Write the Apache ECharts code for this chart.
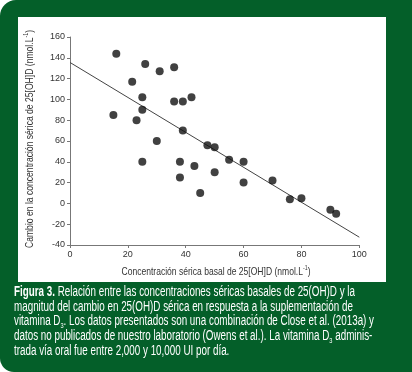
<!DOCTYPE html>
<html><head><meta charset="utf-8">
<script src="https://cdn.jsdelivr.net/npm/echarts@6/dist/echarts.min.js"></script>
<style>html,body{margin:0;padding:0;background:#fff}#c{width:412px;height:372px}</style>
</head><body><div id="c"></div>
<script>
const xTicks = [0, 20, 40, 60, 80, 100];
const yTicks = [-40, -20, 0, 20, 40, 60, 80, 100, 120, 140, 160];
const baseline25OHD = [16, 26, 31, 36, 21.5, 25, 36, 39, 42, 15, 25, 23, 39, 30, 25, 38, 43, 38, 45, 47.5, 50, 55, 60, 50, 60, 70, 76, 80, 90, 92];
const change25OHD  = [144, 134, 127, 131, 117, 102, 98, 98, 102, 85, 90, 80, 70, 60, 40, 40, 36, 25, 10, 56, 54, 42, 40, 30, 20, 22, 4, 5, -6, -10];
const fitX = [0, 100];
const fitY = [135.5, -32.5];
const xTitle = 'Concentración sérica basal de 25[OH]D (nmol.L';
const yTitle = 'Cambio en la concentración sérica de 25[OH]D (nmol.L';
const captionLines = [
  [['b','Figura 3.'],['t',' Relación entre las concentraciones séricas basales de 25(OH)D y la']],
  [['t','magnitud del cambio en 25(OH)D sérica en respuesta a la suplementación de']],
  [['t','vitamina D'],['s','3'],['t','. Los datos presentados son una combinación de Close et al. (2013a) y']],
  [['t','datos no publicados de nuestro laboratorio (Owens et al.). La vitamina D'],['s','3'],['t',' adminis-']],
  [['t','trada vía oral fue entre 2,000 y 10,000 UI por día.']]
];

const GREEN = '#045f29';
const FONT = "'Liberation Sans', Arial, sans-serif";
const chart = echarts.init(document.getElementById('c'), null, {renderer:'canvas'});

const ctx = document.createElement('canvas').getContext('2d');
function w(text, size, bold) { ctx.font = (bold ? 'bold ' : '') + size + 'px ' + FONT; return ctx.measureText(text).width; }

const scatterData = baseline25OHD.map((x,i)=>[x, change25OHD[i]]);
const fitData = fitX.map((x,i)=>[x, fitY[i]]);

const CAP = 14;
const line1W = w('Figura 3.', CAP, true) + w(' Relación entre las concentraciones séricas basales de 25(OH)D y la', CAP, false);
const capScale = 341 / line1W;
const capElems = captionLines.map((line, i) => ({
  type: 'text', x: 14, y: 292.2 + i*14.7, scaleX: capScale, z: 10,
  style: {
    text: line.map(([k,s]) => '{' + k + '|' + s + '}').join(''),
    verticalAlign: 'middle',
    rich: {
      b: {fontFamily: FONT, fontSize: CAP, fontWeight: 'bold', fill: '#fff'},
      t: {fontFamily: FONT, fontSize: CAP, fill: '#fff'},
      s: {fontFamily: FONT, fontSize: 8, fill: '#fff', padding: [9,0,0,0]}
    }
  }
}));

const TS = 10.5;
const titleRich = {
  a: {fontFamily: FONT, fontSize: TS, fill: '#333'},
  sup: {fontFamily: FONT, fontSize: 6.5, fill: '#333', padding: [0,0,7,0]}
};
const xTitleScale = 189 / (w(xTitle + ')', TS) + w('-1', 6.5));
const yTitleScale = 218 / (w(yTitle + ')', TS) + w('-1', 6.5));

const axisLabelStyle = {color:'#333', fontSize: 9, fontFamily: FONT};

chart.setOption({
  animation: false,
  backgroundColor: '#fff',
  graphic: [
    {type:'rect', left:0, top:0, z:-10, shape:{x:0,y:0,width:412,height:372,r:[16,0,0,14]}, style:{fill:GREEN}},
    {type:'rect', left:18, top:17, z:-9, shape:{x:0,y:0,width:368,height:265}, style:{fill:'#fff'}},
    {type:'text', x:216, y:272, scaleX: xTitleScale, z:10,
      style:{text:'{a|' + xTitle + '}{sup|-1}{a|)}', align:'center', verticalAlign:'middle', rich:titleRich}},
    {type:'text', x:30, y:139, rotation: Math.PI/2, scaleX: yTitleScale, z:10,
      style:{text:'{a|' + yTitle + '}{sup|-1}{a|)}', align:'center', verticalAlign:'middle', rich:titleRich}},
    ...capElems
  ],
  grid: {left:70, right:52.7, top:37, bottom:127, containLabel:false},
  xAxis: {
    type:'value', min:0, max:100, interval:20,
    axisLine:{show:true, onZero:false, lineStyle:{color:'#777', width:1}},
    axisTick:{show:true, length:3, lineStyle:{color:'#777'}},
    axisLabel: Object.assign({margin:5}, axisLabelStyle),
    splitLine:{show:false}
  },
  yAxis: {
    type:'value', min:-40, max:160, interval:20,
    axisLine:{show:true, onZero:false, lineStyle:{color:'#777', width:1}},
    axisTick:{show:true, length:3, lineStyle:{color:'#777'}},
    axisLabel: Object.assign({margin:5}, axisLabelStyle),
    splitLine:{show:false}
  },
  series: [
    {type:'line', data: fitData, symbol:'none', lineStyle:{color:'#444', width:1}, z:1},
    {type:'scatter', data: scatterData, symbol:'circle', symbolSize: 8, itemStyle:{color:'#111'}, z:2}
  ]
});
</script></body></html>
